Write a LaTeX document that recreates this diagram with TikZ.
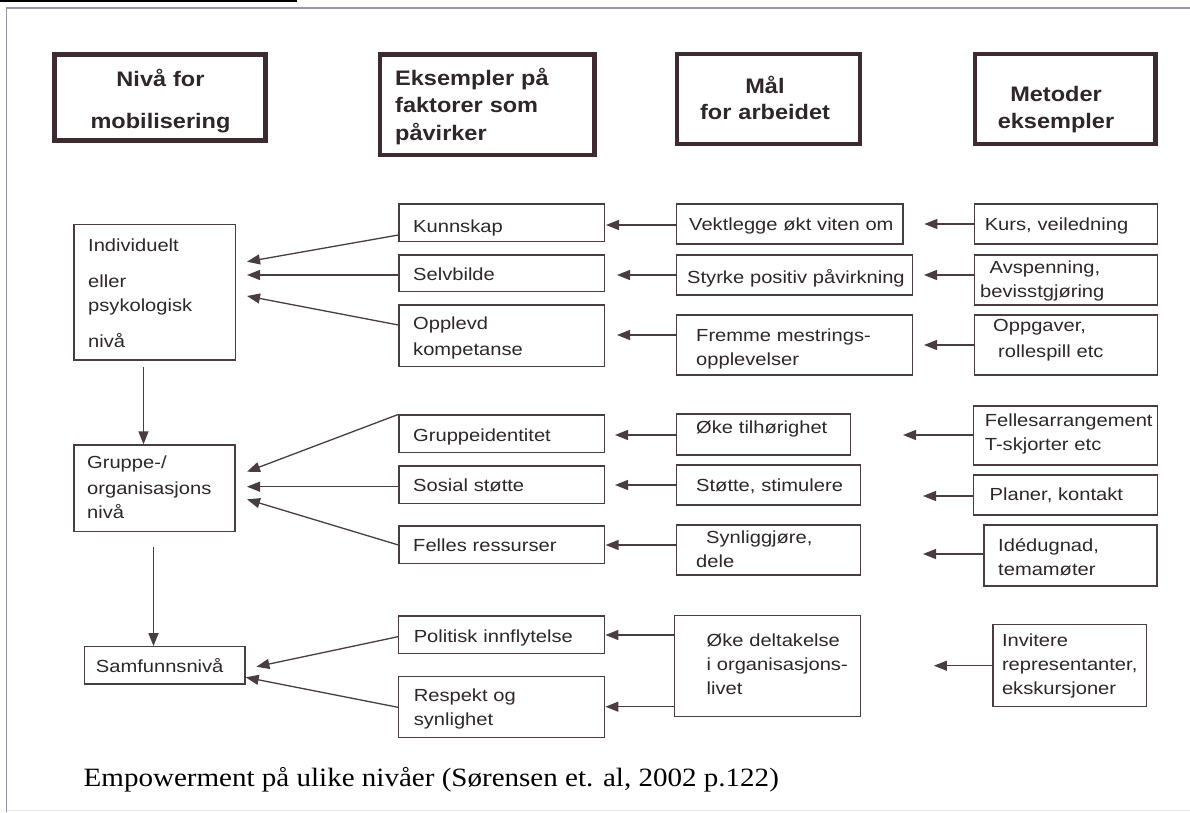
\documentclass[tikz,border=0pt]{standalone}
\usepackage{fontspec}
\setmainfont{Liberation Sans}
\newfontfamily\bodyf[FakeStretch=1.15]{Liberation Sans}
\newfontfamily\headf[FakeStretch=1.12]{Liberation Sans}
\newfontfamily\capf[FakeStretch=1.10]{Liberation Serif}
\usetikzlibrary{arrows.meta,fit}
\definecolor{ink}{HTML}{2F2629}
\definecolor{hink}{HTML}{3D2B30}
\definecolor{linec}{HTML}{4A3D40}
\definecolor{framec}{HTML}{9494AA}
\newcommand\mkbox[5]{%
  \coordinate (#1-nw) at (#2,#3);
  \coordinate (#1-se) at (#4,#5);
  \node[bbox, fit=(#1-nw)(#1-se)] (#1) {};}
\newcommand\mkhead[5]{%
  \coordinate (#1-nw) at (#2,#3);
  \coordinate (#1-se) at (#4,#5);
  \node[hbox, fit=(#1-nw)(#1-se)] (#1) {};}
\begin{document}
\begin{tikzpicture}[x=1pt,y=-1pt,
  bbox/.style={draw=linec, line width=1.2pt, inner sep=0pt},
  hbox/.style={draw=hink, line width=4.3pt, inner sep=0pt},
  btxt/.style={text=ink, font=\bodyf\fontsize{17.5}{24}\selectfont, anchor=base west,
    inner sep=0pt, text width=320pt, align=left},
  htxt/.style={text=ink, font=\headf\bfseries\fontsize{21}{27.5}\selectfont, anchor=base,
    inner sep=0pt, text width=230pt, align=center},
  arr/.style={draw=linec, line width=1.3pt, -{Triangle[length=13pt,width=10pt]}},
]
\useasboundingbox (0,0) rectangle (1190,812);
\fill[white] (0,0) rectangle (1190,812);
% page frame
\fill[black] (0,0) rectangle (297,2.3);
\draw[framec, line width=1.1pt] (6.5,812) -- (6.5,8) -- (1190,8);
\draw[black!10, line width=1pt] (6.5,810.5) -- (1190,810.5);

% headers
\mkhead{h1}{54.5}{54.5}{265.5}{140.5}
\mkhead{h2}{379.7}{54.5}{594.4}{154.7}
\mkhead{h3}{677}{54.2}{860}{144.3}
\mkhead{h4}{975.3}{54.2}{1155.5}{144.3}
\node[htxt] (h1t) at (160.5,86) {Nivå for\\[14.5pt]mobilisering};
\node[htxt, anchor=base west, align=left] (h2t) at (395,85) {Eksempler på\\faktorer som\\påvirker};
\node[htxt] (h3t) at (765,93.3) {Mål\\[-1pt]for arbeidet};
\node[htxt] (h4t) at (1056,101.7) {Metoder\\[-1pt]eksempler};

% row 1
\mkbox{indiv}{74}{224.3}{235.4}{360}
\mkbox{kunn}{399}{204}{604.5}{241.7}
\mkbox{selv}{399}{255}{604.5}{291.7}
\mkbox{oppl}{399}{305}{604.5}{366.7}
\mkbox{vekt}{676.4}{204}{903}{244}
\mkbox{styrke}{676.4}{255}{912.4}{295}
\mkbox{fremme}{676.4}{315}{912.4}{375}
\mkbox{kurs}{974.5}{204}{1157.8}{244}
\mkbox{avsp}{974.5}{255}{1157.8}{305}
\mkbox{oppg}{974.5}{315}{1157.8}{375}
\node[btxt] (indiv-t) at (88,251.7) {Individuelt\\[11.3pt]eller\\psykologisk\\[12pt]nivå};
\node[btxt] (kunn-t) at (413,232) {Kunnskap};
\node[btxt] (selv-t) at (413,280) {Selvbilde};
\node[btxt] (oppl-t) at (413,329) {Opplevd\\[2pt]kompetanse};
\node[btxt] (vekt-t) at (689,230) {Vektlegge økt viten om};
\node[btxt] (styrke-t) at (687,283) {Styrke positiv påvirkning};
\node[btxt] (fremme-t) at (696,341.7) {Fremme mestrings-\\opplevelser};
\node[btxt] (kurs-t) at (984.6,230) {Kurs, veiledning};
\node[btxt] (avsp-t) at (980,273) {\hspace*{9.5pt}Avspenning,\\bevisstgjøring};
\node[btxt] (oppg-t) at (993,331.7) {Oppgaver,\\[2pt]\hspace*{5pt}rollespill etc};

% row 2
\mkbox{gruppe}{74}{445}{235}{531.7}
\mkbox{gid}{399}{415}{604.5}{452.7}
\mkbox{sos}{399}{466}{604.5}{503.3}
\mkbox{fell}{399}{526}{604.5}{563.3}
\mkbox{oke}{676.4}{414}{850.3}{455}
\mkbox{stotte}{676.4}{465}{860.4}{505}
\mkbox{synl}{676.4}{525}{860.4}{575}
\mkbox{fellarr}{973.7}{406}{1157.8}{465}
\mkbox{plan}{973.7}{475}{1157.8}{515}
\mkbox{ide}{983.9}{525}{1157}{586}
\node[btxt] (gruppe-t) at (87,468) {Gruppe-/\\[2pt]organisasjons\\nivå};
\node[btxt] (gid-t) at (413,441.7) {Gruppeidentitet};
\node[btxt] (sos-t) at (413,491.7) {Sosial støtte};
\node[btxt] (fell-t) at (413,551.7) {Felles ressurser};
\node[btxt] (oke-t) at (696,433.3) {Øke tilhørighet};
\node[btxt] (stotte-t) at (696,491.7) {Støtte, stimulere};
\node[btxt] (synl-t) at (696,543.3) {\hspace*{10pt}Synliggjøre,\\dele};
\node[btxt] (fellarr-t) at (984.6,426.7) {Fellesarrangement\\T-skjorter etc};
\node[btxt] (plan-t) at (989.5,500) {Planer, kontakt};
\node[btxt] (ide-t) at (998,551.7) {Idédugnad,\\temamøter};

% row 3
\mkbox{samf}{84.3}{646.7}{245}{684}
\mkbox{pol}{398.6}{616}{604.6}{653.3}
\mkbox{resp}{398.6}{676.7}{604.6}{737.3}
\mkbox{okedel}{674.3}{615.7}{860.7}{716.7}
\mkbox{inv}{992.9}{624.3}{1146.4}{706.7}
\node[btxt] (samf-t) at (95.7,672.7) {Samfunnsnivå};
\node[btxt] (pol-t) at (413.6,642.7) {Politisk innflytelse};
\node[btxt] (resp-t) at (413.6,701) {Respekt og\\synlighet};
\node[btxt] (okedel-t) at (706.4,646.7) {Øke deltakelse\\i organisasjons-\\livet};
\node[btxt] (inv-t) at (1001.8,646.7) {Invitere\\representanter,\\ekskursjoner};

% caption
\node[anchor=base west, inner sep=0pt, text=black, font=\capf\fontsize{26.4}{30}\selectfont]
  (cap) at (83.5,786) {Empowerment på ulike nivåer (Sørensen et. al, 2002 p.122)};

% connector end points
\coordinate (t-ki) at (247,261.7);
\coordinate (t-si) at (247,275);
\coordinate (t-oi) at (247,296);
\coordinate (t-vk) at (606,225);
\coordinate (t-ss) at (617,275);
\coordinate (t-fo) at (617,335);
\coordinate (t-kv) at (924.4,224);
\coordinate (t-as) at (924,275);
\coordinate (t-of) at (924,345);
\coordinate (d1) at (143.5,0);
\coordinate (t-gg) at (247,471.7);
\coordinate (t-sg) at (247,486.7);
\coordinate (t-fg) at (247,499.3);
\coordinate (t-og) at (615,435);
\coordinate (t-ss2) at (615,485);
\coordinate (t-sf) at (605.6,545);
\coordinate (t-fo2) at (903,435);
\coordinate (t-ps) at (923,496);
\coordinate (t-is) at (923,554);
\coordinate (d2) at (153.5,0);
\coordinate (t-ps3) at (256.4,666.7);
\coordinate (t-rs) at (245.7,677.3);
\coordinate (t-op) at (605.4,635);
\coordinate (t-or) at (605.4,706.7);
\coordinate (t-io) at (933.9,665.7);

% row 1 connectors
\draw[arr] (kunn.west |- 0,235) -- (t-ki);
\draw[arr] (selv.west |- t-si) -- (t-si);
\draw[arr] (oppl.west |- 0,325) -- (t-oi);
\draw[arr] (vekt.west |- t-vk) -- (t-vk);
\draw[arr] (styrke.west |- t-ss) -- (t-ss);
\draw[arr] (fremme.west |- t-fo) -- (t-fo);
\draw[arr] (kurs.west |- t-kv) -- (t-kv);
\draw[arr] (avsp.west |- t-as) -- (t-as);
\draw[arr] (oppg.west |- t-of) -- (t-of);
\draw[arr, shorten <=6.7pt] (indiv.south -| d1) -- (gruppe.north -| d1);
% row 2 connectors
\draw[arr] (gid.north west) -- (t-gg);
\draw[arr] (sos.west |- t-sg) -- (t-sg);
\draw[arr] (fell.west |- 0,545) -- (t-fg);
\draw[arr] (oke.west |- t-og) -- (t-og);
\draw[arr] (stotte.west |- t-ss2) -- (t-ss2);
\draw[arr] (synl.west |- t-sf) -- (t-sf);
\draw[arr] (fellarr.west |- t-fo2) -- (t-fo2);
\draw[arr] (plan.west |- t-ps) -- (t-ps);
\draw[arr] (ide.west |- t-is) -- (t-is);
\draw[arr, shorten <=15pt] (gruppe.south -| d2) -- (samf.north -| d2);
% row 3 connectors
\draw[arr] (pol.west |- 0,636.7) -- (t-ps3);
\draw[arr] (resp.west |- 0,707.3) -- (t-rs);
\draw[arr] (okedel.west |- t-op) -- (t-op);
\draw[arr] (okedel.west |- t-or) -- (t-or);
\draw[arr] (inv.west |- t-io) -- (t-io);
\end{tikzpicture}
\end{document}
